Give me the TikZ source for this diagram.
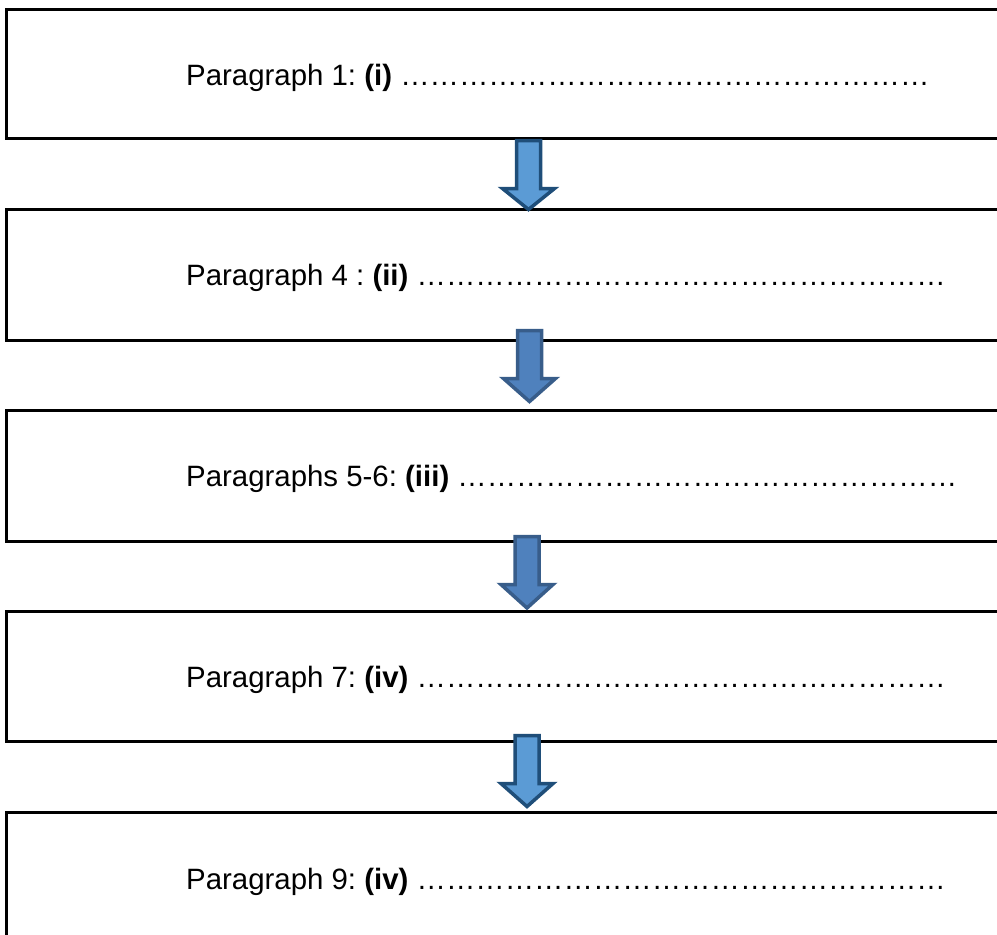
\documentclass[tikz,border=0pt]{standalone}
\usepackage{fontspec}
\setmainfont{Liberation Sans}
\frenchspacing
\definecolor{lightfill}{HTML}{5B9BD5}
\definecolor{lightline}{HTML}{1F4E79}
\definecolor{midfill}{HTML}{4F81BD}
\definecolor{midline}{HTML}{385D8A}
\tikzset{
  parabox/.style={draw=black, line width=3pt, rectangle, outer sep=0pt, inner sep=0pt,
    minimum width=1010pt, anchor=north west},
  paratext/.style={anchor=base west, inner sep=0pt, font=\fontsize{29.4pt}{34pt}\selectfont},
  lightarrow/.style={fill=lightfill, draw=lightline, line width=3.5pt, line join=miter},
  midarrow/.style={fill=midfill, draw=midline, line width=3.5pt, line join=miter}
}
\newcommand{\blockarrow}[5]{% style, cx, top, headtop, tip
  \draw[#1] (#2-12,-#3) -- (#2+12,-#3) -- (#2+12,-#4) -- (#2+26,-#4)
     -- (#2,-#5) -- (#2-26,-#4) -- (#2-12,-#4) -- cycle;}
\newcommand{\dotrun}[1]{\foreach \k in {1,...,#1}{…}}
\begin{document}
\begin{tikzpicture}[x=1pt,y=1pt]
\useasboundingbox (0,0) rectangle (997,-935);
\clip (0,0) rectangle (997,-935);
\node[parabox, minimum height=129pt] (b1) at (6.2,-9.7) {};
\node[parabox, minimum height=131pt] (b2) at (6.2,-209) {};
\node[parabox, minimum height=131.5pt] (b3) at (6.2,-410) {};
\node[parabox, minimum height=130.5pt] (b4) at (6.2,-611) {};
\node[parabox, minimum height=140pt] (b5) at (6.2,-812) {};

\node[paratext] (t1) at (186,-85) {Paragraph 1: \textbf{(i)} \dotrun{18}};
\node[paratext] (t2) at (186,-285) {Paragraph 4 : \textbf{(ii)} \dotrun{18}};
\node[paratext] (t3) at (186,-486) {Paragraphs 5-6: \textbf{(iii)} \dotrun{17}};
\node[paratext] (t4) at (186,-687) {Paragraph 7: \textbf{(iv)} \dotrun{18}};
\node[paratext] (t5) at (186,-889) {Paragraph 9: \textbf{(iv)} \dotrun{18}};

\blockarrow{lightarrow}{528.5}{140.5}{188.5}{209.5}
\blockarrow{midarrow}{529.5}{330.5}{378.5}{401.5}
\blockarrow{midarrow}{527}{536.5}{584.5}{608}
\blockarrow{lightarrow}{527}{735.5}{783.5}{806.5}
\end{tikzpicture}
\end{document}
